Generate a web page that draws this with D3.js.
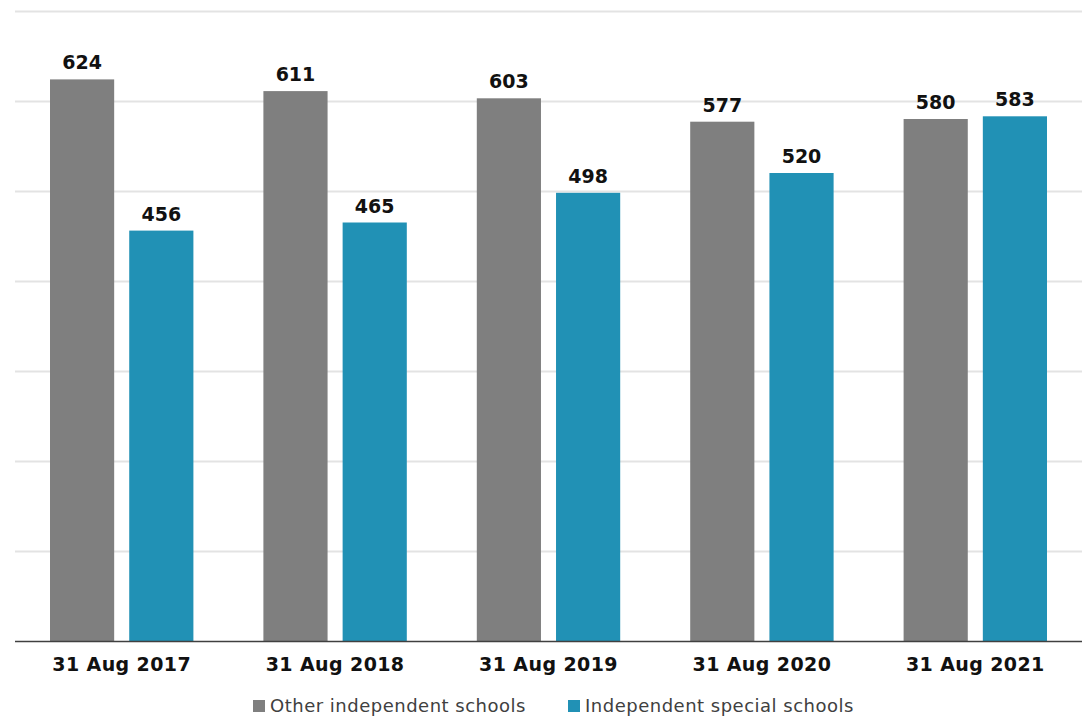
<!DOCTYPE html>
<html>
<head>
<meta charset="utf-8">
<script src="https://cdn.jsdelivr.net/npm/d3@7"></script>
<style>
  body { margin: 0; background: #fff; }
  svg { display: block; font-family: "DejaVu Sans", Verdana, sans-serif; }
</style>
</head>
<body>
<svg id="chart"></svg>
<script>
const categories = ["31 Aug 2017", "31 Aug 2018", "31 Aug 2019", "31 Aug 2020", "31 Aug 2021"];
const series_names = ["Other independent schools", "Independent special schools"];
const other_values = [624, 611, 603, 577, 580];
const special_values = [456, 465, 498, 520, 583];
const y_ticks = [0, 100, 200, 300, 400, 500, 600, 700];

const width = 1086, height = 717;
const margin = { top: 11, right: 4, bottom: 75, left: 15 };
const colors = ["#7f7f7f", "#2191b5"];

const svg = d3.select("#chart")
    .attr("width", width)
    .attr("height", height);

const x = d3.scaleBand()
    .domain(categories)
    .range([margin.left, width - margin.right])
    .paddingInner(0)
    .paddingOuter(0);

const x_inner = d3.scaleBand()
    .domain(series_names)
    .range([35, x.bandwidth() - 35])
    .paddingInner(0.19);

const y = d3.scaleLinear()
    .domain([0, 700])
    .range([height - margin.bottom - 1, margin.top]);

// gridlines
svg.append("g")
    .selectAll("line")
    .data(y_ticks.filter(t => t > 0))
    .enter().append("line")
    .attr("x1", margin.left)
    .attr("x2", width - margin.right)
    .attr("y1", d => Math.round(y(d)) + 0.5)
    .attr("y2", d => Math.round(y(d)) + 0.5)
    .attr("stroke", "#e3e3e3")
    .attr("stroke-width", 2);

const rows = categories.map((c, i) => ({
    cat: c,
    vals: [other_values[i], special_values[i]]
}));

const groups = svg.append("g")
    .selectAll("g")
    .data(rows)
    .enter().append("g")
    .attr("transform", d => `translate(${x(d.cat)},0)`);

groups.selectAll("rect")
    .data(d => d.vals.map((v, j) => ({ name: series_names[j], v: v, j: j })))
    .enter().append("rect")
    .attr("x", d => x_inner(d.name))
    .attr("width", x_inner.bandwidth())
    .attr("y", d => y(d.v))
    .attr("height", d => y(0) - y(d.v))
    .attr("fill", d => colors[d.j]);

groups.selectAll("text")
    .data(d => d.vals.map((v, j) => ({ name: series_names[j], v: v, j: j })))
    .enter().append("text")
    .attr("x", d => x_inner(d.name) + x_inner.bandwidth() / 2)
    .attr("y", d => y(d.v) - 10)
    .attr("text-anchor", "middle")
    .attr("font-size", "19px")
    .attr("font-weight", "bold")
    .attr("fill", "#111")
    .text(d => d.v);

// baseline
svg.append("line")
    .attr("x1", margin.left)
    .attr("x2", width - margin.right)
    .attr("y1", y(0) + 0.5)
    .attr("y2", y(0) + 0.5)
    .attr("stroke", "#404040")
    .attr("stroke-width", 1.5);

// category axis
const x_axis = svg.append("g")
    .attr("transform", `translate(0,${y(0)})`)
    .call(d3.axisBottom(x).tickSize(0).tickPadding(17));
x_axis.select(".domain").remove();
x_axis.selectAll("text")
    .attr("font-size", "19px")
    .attr("font-weight", "bold")
    .attr("font-family", "DejaVu Sans, Verdana, sans-serif")
    .attr("letter-spacing", "0.4px")
    .attr("fill", "#111");

// legend
const legend = svg.append("g").attr("transform", "translate(0,706)");
const legend_x = [253, 568];
series_names.forEach((name, i) => {
    legend.append("rect")
        .attr("x", legend_x[i])
        .attr("y", -6)
        .attr("width", 12)
        .attr("height", 12)
        .attr("fill", colors[i]);
    legend.append("text")
        .attr("x", legend_x[i] + 17)
        .attr("y", 0)
        .attr("dy", "0.35em")
        .attr("font-size", "18px")
        .attr("letter-spacing", "0.5px")
        .attr("fill", "#404040")
        .text(name);
});
</script>
</body>
</html>
